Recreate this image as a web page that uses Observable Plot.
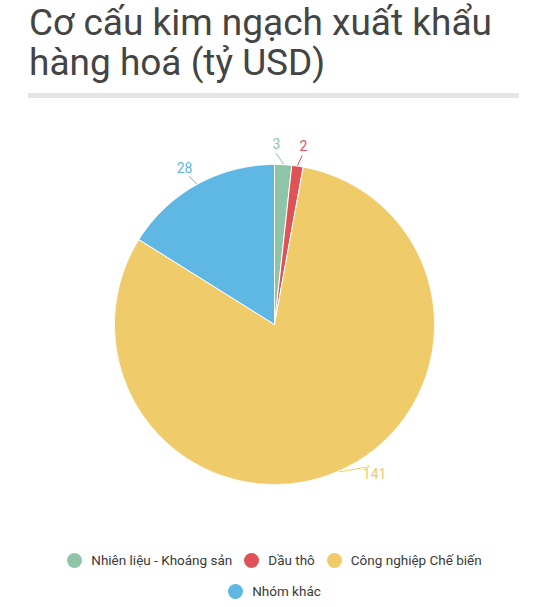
<!DOCTYPE html>
<html><head><meta charset="utf-8">
<script src="https://cdn.jsdelivr.net/npm/d3@7"></script>
<script src="https://cdn.jsdelivr.net/npm/@observablehq/plot@0.6"></script>
<style>
body{margin:0;background:#fff;font-family:Roboto,sans-serif;width:549px;}
#title{font-size:37px;line-height:40px;color:#444;padding:3px 0 0 29px;font-weight:400;}
#bar{margin:10px 30px 0 28px;height:5px;background:#e5e5e5;}
#legend{display:flex;flex-wrap:wrap;justify-content:center;gap:15px 12px;font-size:13.5px;font-weight:400;color:#3a3a3a;width:450px;margin:24px auto 0;}
.it{display:flex;align-items:center;height:16px;}
.dot{width:15px;height:15px;border-radius:50%;margin-right:9px;}
</style></head><body>
<div id="title">Cơ cấu kim ngạch xuất khẩu<br>hàng hoá (tỷ USD)</div>
<div id="bar"></div>
<div id="chart"></div>
<div id="legend"></div>
<script>
const categories = ["Nhiên liệu - Khoáng sản", "Dầu thô", "Công nghiệp Chế biến", "Nhóm khác"];
const values = [3, 2, 141, 28];
const colors = ["#8fc4a8", "#df5257", "#f0cb6a", "#5fb7e4"];

// styling: angular nudge (degrees) of each label away from its slice middle, to avoid collisions
const labelNudgeDeg = [-2.5, 1, -10, -1];

const W = 549, H = 430, cx = 274, cy = 226, R = 160;
const arcs = d3.pie().sort(null).value(d => d)(values);
const pt = (a, r) => [cx + r * Math.sin(a), cy - r * Math.cos(a)];

const slicePts = [];
arcs.forEach((a, i) => {
  slicePts.push({k: i, x: cx, y: cy});
  const n = Math.max(2, Math.ceil((a.endAngle - a.startAngle) / 0.005));
  for (let j = 0; j <= n; j++) {
    const t = a.startAngle + (a.endAngle - a.startAngle) * j / n;
    const [x, y] = pt(t, R);
    slicePts.push({k: i, x, y});
  }
  slicePts.push({k: i, x: cx, y: cy});
});

const leaders = [], labels = [];
arcs.forEach((a, i) => {
  const m = (a.startAngle + a.endAngle) / 2;
  const la = m + labelNudgeDeg[i] * Math.PI / 180;
  const [x1, y1] = pt(m, R + 1);
  const [x2, y2] = pt(la, R + 11);
  leaders.push({k: i, x: x1, y: y1}, {k: i, x: x2, y: y2});
  const [lx, ly] = pt(la, R + 20);
  labels.push({k: i, x: lx, y: ly, v: values[i]});
});

const chart = Plot.plot({
  width: W, height: H, margin: 0,
  x: {domain: [0, W], range: [0, W], axis: null},
  y: {domain: [0, H], range: [0, H], axis: null},
  marks: [
    Plot.line(slicePts, {x: "x", y: "y", z: "k", fill: d => colors[d.k], stroke: "#fff", strokeWidth: 1, strokeLinejoin: "round"}),
    Plot.line(leaders, {x: "x", y: "y", z: "k", stroke: d => colors[d.k], strokeWidth: 1}),
    Plot.text(labels, {x: "x", y: "y", text: "v", fill: d => colors[d.k], fontSize: 14, fontFamily: "Roboto", textAnchor: "middle", lineAnchor: "middle"})
  ]
});
document.getElementById("chart").append(chart);

const leg = d3.select("#legend");
categories.forEach((c, i) => {
  const it = leg.append("div").attr("class", "it");
  it.append("div").attr("class", "dot").style("background", colors[i]);
  it.append("span").text(c);
});
</script>
</body></html>
